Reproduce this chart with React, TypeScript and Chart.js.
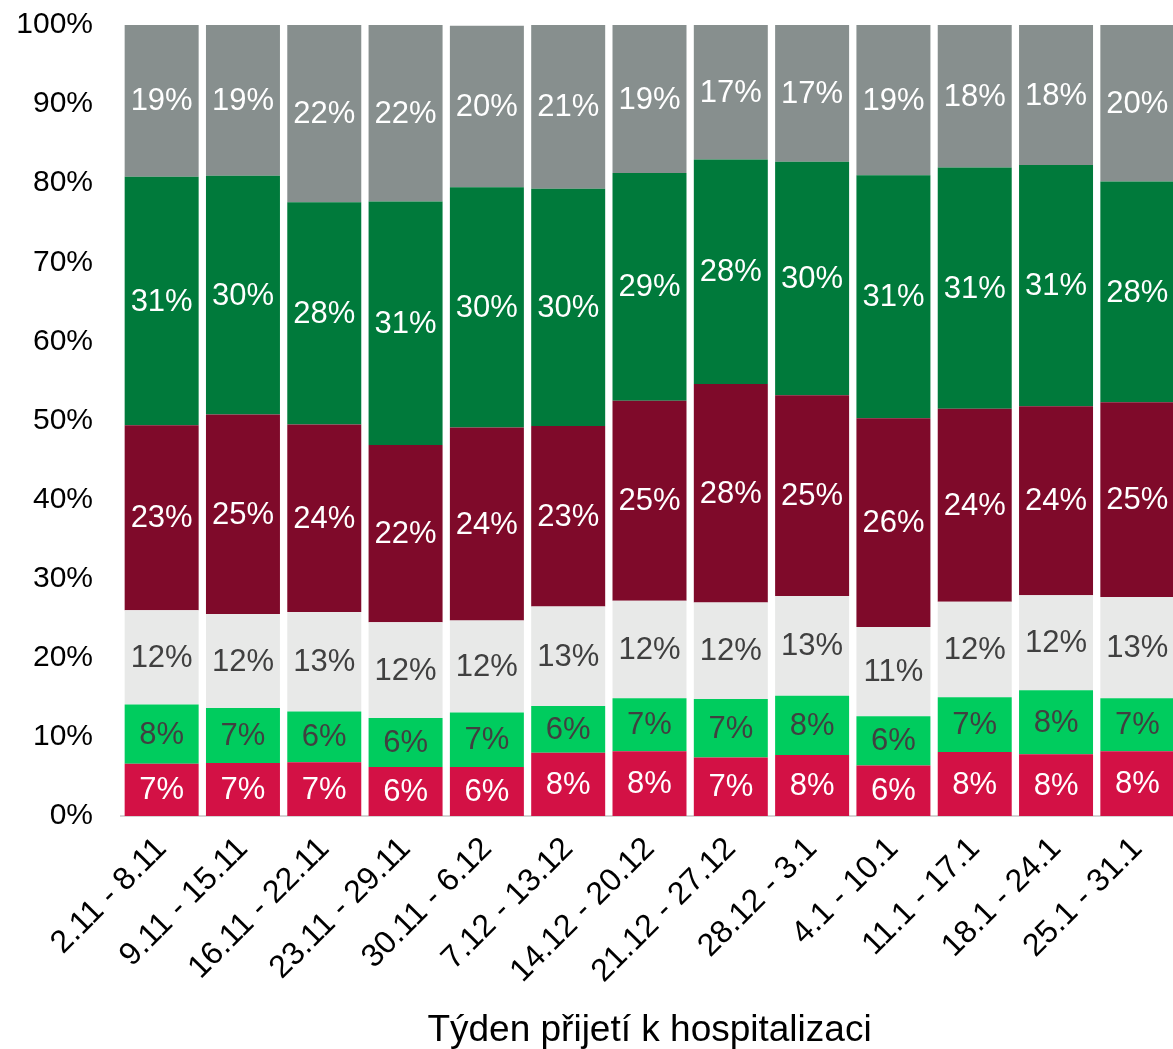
import React, { useEffect, useRef } from 'react';
import { Chart, registerables } from 'chart.js';

Chart.register(...registerables);

const categories = [
  '2.11 - 8.11', '9.11 - 15.11', '16.11 - 22.11', '23.11 - 29.11', '30.11 - 6.12',
  '7.12 - 13.12', '14.12 - 20.12', '21.12 - 27.12', '28.12 - 3.1', '4.1 - 10.1',
  '11.1 - 17.1', '18.1 - 24.1', '25.1 - 31.1',
];

const series1 = [6.6, 6.7, 6.8, 6.2, 6.2, 8.0, 8.2, 7.4, 7.7, 6.4, 8.1, 7.8, 8.2];
const series2 = [7.5, 6.95, 6.4, 6.2, 6.9, 5.9, 6.7, 7.4, 7.5, 6.2, 6.9, 8.1, 6.7];
const series3 = [11.9, 11.9, 12.6, 12.1, 11.6, 12.6, 12.3, 12.2, 12.6, 11.3, 12.1, 12.0, 12.8];
const series4 = [23.4, 25.2, 23.7, 22.4, 24.4, 22.8, 25.3, 27.6, 25.4, 26.4, 24.4, 23.9, 24.6];
const series5 = [31.4, 30.2, 28.1, 30.8, 30.4, 30.0, 28.8, 28.4, 29.5, 30.7, 30.5, 30.5, 27.9];
const series6 = [19.2, 19.05, 22.4, 22.3, 20.4, 20.7, 18.7, 17.0, 17.3, 19.0, 18.0, 17.7, 19.8];

const seriesNames = ['Skupina 1', 'Skupina 2', 'Skupina 3', 'Skupina 4', 'Skupina 5', 'Skupina 6'];
const yTicks = [0, 10, 20, 30, 40, 50, 60, 70, 80, 90, 100];

const colors = ['#D31145', '#00CC5E', '#E8E9E8', '#7F0A2A', '#007A3B', '#878F8E'];
const labelColors = ['#ffffff', '#404040', '#404040', '#ffffff', '#ffffff', '#ffffff'];

const FONT = '"Liberation Sans", Arial, Helvetica, sans-serif';

const labelPlugin = {
  id: 'segmentLabels',
  afterDatasetsDraw(chart: any) {
    const ctx = chart.ctx;
    ctx.save();
    ctx.font = `31px ${FONT}`;
    ctx.textAlign = 'center';
    ctx.textBaseline = 'middle';
    chart.data.datasets.forEach((ds: any, di: number) => {
      const meta = chart.getDatasetMeta(di);
      meta.data.forEach((bar: any, i: number) => {
        const v = ds.data[i];
        const cy = (bar.y + bar.base) / 2;
        ctx.fillStyle = labelColors[di];
        ctx.fillText(Math.round(v) + '%', bar.x, cy + 1);
      });
    });
    ctx.restore();
  },
};

export default function App() {
  const ref = useRef<HTMLCanvasElement | null>(null);

  useEffect(() => {
    document.body.style.margin = '0';
    const canvas = ref.current;
    if (!canvas) return;
    const allSeries = [series1, series2, series3, series4, series5, series6];
    const chart = new Chart(canvas, {
      type: 'bar',
      data: {
        labels: categories,
        datasets: allSeries.map((d, i) => ({
          label: seriesNames[i],
          data: d,
          backgroundColor: colors[i],
          borderWidth: 0,
          barPercentage: 0.91,
          categoryPercentage: 1,
        })),
      },
      options: {
        responsive: false,
        animation: false,
        layout: { padding: { left: 0, right: 0, top: 25, bottom: 0 } },
        plugins: {
          legend: { display: false },
          tooltip: { enabled: false },
        },
        scales: {
          x: {
            stacked: true,
            grid: { display: false, drawTicks: false },
            border: { display: true, color: '#D4D4D4', width: 2 },
            ticks: {
              color: '#000',
              font: { family: FONT, size: 32 },
              minRotation: 45,
              maxRotation: 45,
              padding: 14,
              autoSkip: false,
            },
            title: {
              display: true,
              text: 'Týden přijetí k hospitalizaci',
              color: '#000',
              font: { family: FONT, size: 37 },
              padding: { top: 0, bottom: -4 },
            },
            afterFit(scale: any) {
              scale.height = 1049 - 816;
              scale.paddingLeft = 0;
              scale.paddingRight = 0;
            },
          },
          y: {
            stacked: true,
            min: 0,
            max: 100,
            grid: { display: false, drawTicks: false },
            border: { display: false },
            ticks: {
              stepSize: 10,
              color: '#000',
              font: { family: FONT, size: 30 },
              padding: 28,
              callback: (v: any) => (yTicks.includes(Number(v)) ? v + '%' : ''),
            },
            afterFit(scale: any) {
              scale.width = 121;
              scale.paddingTop = 0;
              scale.paddingBottom = 0;
            },
          },
        },
      },
      plugins: [labelPlugin],
    });
    return () => chart.destroy();
  }, []);

  return (
    <div style={{ width: 1173, height: 1049, overflow: 'hidden', position: 'relative' }}>
      <canvas ref={ref} width={1178} height={1049} style={{ display: 'block', width: 1178, height: 1049 }} />
    </div>
  );
}
